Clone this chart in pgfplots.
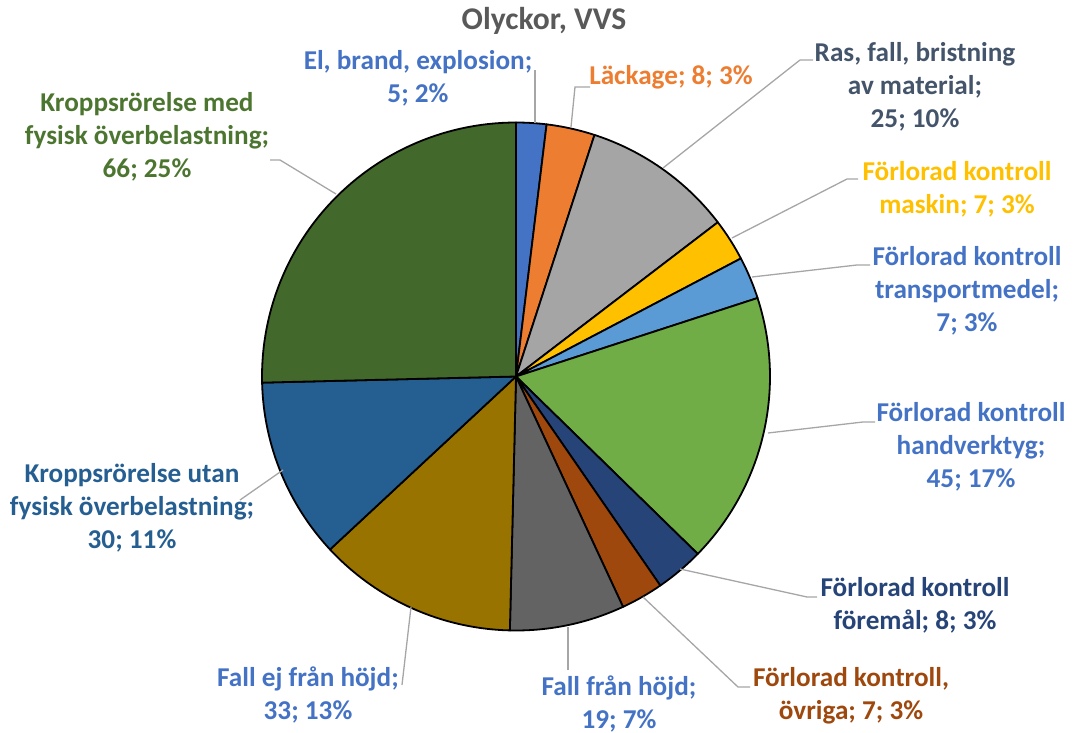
\documentclass[border=0pt]{standalone}
\usepackage{pgfplots}
\pgfplotsset{compat=1.18}
\usepackage{fontspec}
\setmainfont{Carlito}
\definecolor{cA}{HTML}{4472C4}
\definecolor{cB}{HTML}{ED7D31}
\definecolor{cC}{HTML}{A5A5A5}
\definecolor{cD}{HTML}{FFC000}
\definecolor{cE}{HTML}{5B9BD5}
\definecolor{cF}{HTML}{70AD47}
\definecolor{cG}{HTML}{264478}
\definecolor{cH}{HTML}{9E480E}
\definecolor{cI}{HTML}{636363}
\definecolor{cJ}{HTML}{997300}
\definecolor{cK}{HTML}{255E91}
\definecolor{cL}{HTML}{43682B}
\definecolor{tRas}{HTML}{44546A}
\definecolor{tMed}{HTML}{4C7630}
\definecolor{ttl}{HTML}{595959}
\definecolor{lead}{HTML}{A6A6A6}
% #1 = cumulative count before slice, #2 = count, #3 = colour; total = 260
\newcommand{\slice}[3]{%
  \addplot[fill=#3, draw=black, line width=0.9pt, line join=round, variable=\t,
    domain=90-(#1+#2)*360/260:90-#1*360/260, samples=60]
    ({516+254*cos(\t)},{376.5-254*sin(\t)}) -- (axis cs:516,376.5) -- cycle;}
\tikzset{lbl/.style={align=center, anchor=center, inner sep=0pt, font=\fontsize{13.6}{16.5}\selectfont\bfseries}}
\begin{document}
\begin{tikzpicture}
\begin{axis}[x=0.5pt, y=0.5pt, xmin=0, xmax=1073, ymin=0, ymax=733, y dir=reverse,
  hide axis, clip=false]
\addplot[draw=none] coordinates {(0,0) (1073,733)};
\slice{0}{5}{cA}
\slice{5}{8}{cB}
\slice{13}{25}{cC}
\slice{38}{7}{cD}
\slice{45}{7}{cE}
\slice{52}{45}{cF}
\slice{97}{8}{cG}
\slice{105}{7}{cH}
\slice{112}{19}{cI}
\slice{131}{33}{cJ}
\slice{164}{30}{cK}
\slice{194}{66}{cL}
% leader lines
\addplot[lead, line width=0.65pt] coordinates {(535,70) (535,123)};
\addplot[lead, line width=0.65pt] coordinates {(590,87) (575,87) (571,127)};
\addplot[lead, line width=0.65pt] coordinates {(813,60) (800,60) (663,168)};
\addplot[lead, line width=0.65pt] coordinates {(858,179) (847,179) (732,238)};
\addplot[lead, line width=0.65pt] coordinates {(870,265) (857,265) (752,277)};
\addplot[lead, line width=0.65pt] coordinates {(875,422) (863,422) (768,433)};
\addplot[lead, line width=0.65pt] coordinates {(817,597) (807,597) (680,569)};
\addplot[lead, line width=0.65pt] coordinates {(750,687) (738,687) (643,597)};
\addplot[lead, line width=0.65pt] coordinates {(568,670) (568,627)};
\addplot[lead, line width=0.65pt] coordinates {(402,685) (411,607)};
\addplot[lead, line width=0.65pt] coordinates {(240,500) (283,470)};
\addplot[lead, line width=0.65pt] coordinates {(270,160) (280,160) (336,194)};
% labels
\node[lbl, font=\fontsize{15.8}{18}\selectfont\bfseries, text=ttl] at (axis cs:544,21) {Olyckor, VVS};
\node[lbl, text=cA] at (axis cs:418,78) {El, brand, explosion;\\5; 2\%};
\node[lbl, text=cB] at (axis cs:671,77) {Läckage; 8; 3\%};
\node[lbl, text=tRas] at (axis cs:915,87) {Ras, fall, bristning\\av material;\\25; 10\%};
\node[lbl, text=cD] at (axis cs:957,189) {Förlorad kontroll\\maskin; 7; 3\%};
\node[lbl, text=cA] at (axis cs:967,291) {Förlorad kontroll\\transportmedel;\\7; 3\%};
\node[lbl, text=cA] at (axis cs:971,447) {Förlorad kontroll\\handverktyg;\\45; 17\%};
\node[lbl, text=cG] at (axis cs:915,605) {Förlorad kontroll\\föremål; 8; 3\%};
\node[lbl, text=cH] at (axis cs:851,696) {Förlorad kontroll,\\övriga; 7; 3\%};
\node[lbl, text=cA] at (axis cs:619,704) {Fall från höjd;\\19; 7\%};
\node[lbl, text=cA] at (axis cs:308,695) {Fall ej från höjd;\\33; 13\%};
\node[lbl, text=cK] at (axis cs:132,508) {Kroppsrörelse utan\\fysisk överbelastning;\\30; 11\%};
\node[lbl, text=tMed] at (axis cs:147,137) {Kroppsrörelse med\\fysisk överbelastning;\\66; 25\%};
\end{axis}
\end{tikzpicture}
\end{document}
